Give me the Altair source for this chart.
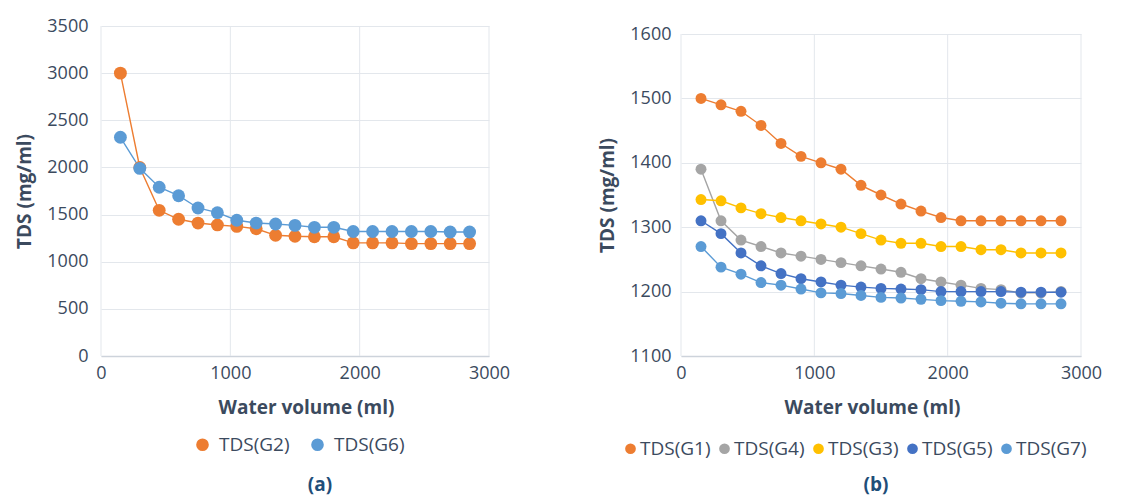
import altair as alt
import pandas as pd

FONT = "Open Sans"
TXT = "#3B4A5E"
GRID = "#E3E7EC"

volume = [150, 300, 450, 600, 750, 900, 1050, 1200, 1350, 1500,
          1650, 1800, 1950, 2100, 2250, 2400, 2550, 2700, 2850]
x_ticks = [0, 1000, 2000, 3000]

# Panel (a)
tds_g2 = [3000, 2000, 1545, 1450, 1410, 1390, 1375, 1350, 1280, 1270,
          1265, 1265, 1200, 1200, 1200, 1192, 1192, 1192, 1192]
tds_g6 = [2320, 1990, 1790, 1700, 1570, 1520, 1440, 1410, 1400, 1385,
          1365, 1365, 1320, 1320, 1320, 1320, 1320, 1315, 1315]

# Panel (b)
tds_g1 = [1500, 1490, 1480, 1458, 1430, 1410, 1400, 1390, 1365, 1350,
          1336, 1325, 1315, 1310, 1310, 1310, 1310, 1310, 1310]
tds_g4 = [1390, 1310, 1280, 1270, 1260, 1255, 1250, 1245, 1240, 1235,
          1230, 1220, 1215, 1210, 1205, 1203, 1198, 1198, 1200]
tds_g3 = [1343, 1341, 1330, 1321, 1315, 1310, 1305, 1300, 1290, 1280,
          1275, 1275, 1270, 1270, 1265, 1265, 1260, 1260, 1260]
tds_g5 = [1310, 1290, 1260, 1240, 1228, 1220, 1215, 1210, 1207, 1205,
          1204, 1203, 1200, 1200, 1200, 1200, 1199, 1199, 1199]
tds_g7 = [1270, 1238, 1227, 1214, 1210, 1204, 1198, 1197, 1194, 1191,
          1190, 1188, 1186, 1185, 1184, 1182, 1181, 1181, 1181]

series_a = ["TDS(G2)", "TDS(G6)"]
colors_a = ["#ED7D31", "#5B9BD5"]
values_a = [tds_g2, tds_g6]

series_b = ["TDS(G1)", "TDS(G4)", "TDS(G3)", "TDS(G5)", "TDS(G7)"]
colors_b = ["#ED7D31", "#A5A5A5", "#FFC000", "#4472C4", "#5B9BD5"]
values_b = [tds_g1, tds_g4, tds_g3, tds_g5, tds_g7]


def make_df(series, values):
    rows = []
    for k, (s, vals) in enumerate(zip(series, values)):
        for v, t in zip(volume, vals):
            rows.append({"series": s, "line_series": s, "order": k, "vol": v, "tds": t})
    return pd.DataFrame(rows)


def panel(series, colors, values, ydom, yvals, w, h, yrange, msize, legend,
          label, tx, ty, xtitle_x, ytitle_pad, ylab_pad):
    df = make_df(series, values)
    xenc = alt.X("vol:Q", scale=alt.Scale(domain=[0, 3000], nice=False),
                 axis=alt.Axis(values=x_ticks, title="Water volume (ml)", grid=False,
                               labelFlush=False, format="d", titleX=xtitle_x,
                               labelPadding=8, titlePadding=16))
    yenc = alt.Y("tds:Q", scale=alt.Scale(domain=ydom, nice=False, zero=False, range=yrange),
                 axis=alt.Axis(values=yvals, title="TDS (mg/ml)", format="d",
                               labelPadding=ylab_pad, titlePadding=ytitle_pad,
                               domain=False))
    grid_df = pd.DataFrame({"vol": x_ticks, "tds": [ydom[0]] * 4, "tds2": [ydom[1]] * 4})
    vgrid = alt.Chart(grid_df).mark_rule(color=GRID, strokeWidth=1).encode(
        x=xenc, y=yenc, y2="tds2:Q"
    )
    lines = alt.Chart(df).mark_line(strokeWidth=1.4).encode(
        x=xenc, y=yenc,
        stroke=alt.Stroke("line_series:N", scale=alt.Scale(range=colors), sort=series,
                          legend=None),
        detail="line_series:N",
        order="vol:Q",
    )
    pts = alt.Chart(df).mark_circle(size=msize, opacity=1).encode(
        x=xenc, y=yenc,
        color=alt.Color("series:N", scale=alt.Scale(domain=series, range=colors),
                        legend=legend),
    )
    lab = alt.Chart(pd.DataFrame({"t": [label]})).mark_text(
        font=FONT, fontSize=19, fontWeight="bold", color="#1F4E79",
        align="center", baseline="middle",
    ).encode(text="t:N", x=alt.value(tx), y=alt.value(ty))
    return alt.layer(vgrid, lines, pts, lab).properties(
        width=w, height=h, view=alt.ViewBackground(strokeOpacity=0))


def make_legend(lx, ly, size, lab_off, col_pad):
    return alt.Legend(title=None, orient="none", legendX=lx, legendY=ly,
                      direction="horizontal", symbolType="circle", symbolSize=size,
                      symbolStrokeWidth=0, labelFont=FONT, labelFontSize=19,
                      labelColor=TXT, labelOffset=lab_off, columnPadding=col_pad,
                      padding=0)


left = panel(series_a, colors_a, values_a, [0, 3500],
             [0, 500, 1000, 1500, 2000, 2500, 3000, 3500],
             388, 330, [330, 0], 165, make_legend(92, 409, 160, 7, 18),
             "(a)", 219, 459, 205, 12, 13)
right = panel(series_b, colors_b, values_b, [1100, 1600],
              [1100, 1200, 1300, 1400, 1500, 1600],
              400, 330, [330, 8], 120, make_legend(-60, 413, 115, 0, 4),
              "(b)", 195, 459, 191, 12, 10)

chart = alt.hconcat(left, right, spacing=88).resolve_scale(
    color="independent", stroke="independent"
).properties(
    background="white", padding={"left": 15, "top": 17, "right": 0, "bottom": 0}
).configure_axis(
    labelFont=FONT, labelFontSize=18, labelColor=TXT,
    titleFont=FONT, titleFontSize=19, titleFontWeight="bold", titleColor=TXT,
    gridColor=GRID, gridWidth=1, ticks=False, domainColor="#CDD3DB", domainWidth=1.5,
)

chart.save("out.html", embed_options={"renderer": "svg", "actions": False})
